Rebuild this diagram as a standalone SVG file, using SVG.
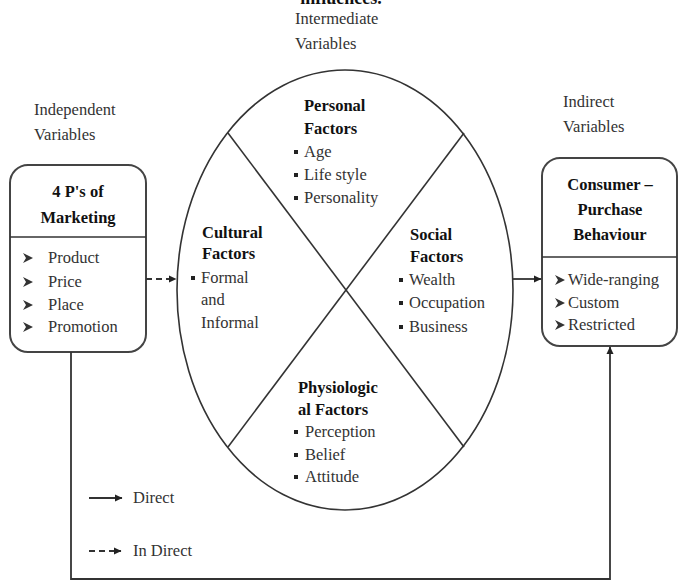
<svg xmlns="http://www.w3.org/2000/svg" width="683" height="584" viewBox="0 0 683 584">
<style>
text{font-family:"Liberation Serif","Times New Roman","DejaVu Serif",serif;font-size:16.5px;fill:#333}
.b{font-weight:bold;fill:#111}
.c{text-anchor:middle}
.box{fill:#fff;stroke:#444;stroke-width:2}
.ln{fill:none;stroke:#333;stroke-width:1.6}
.con{fill:none;stroke:#333;stroke-width:1.8}
.dash{stroke-dasharray:6 4}
.bul{fill:#222}
</style>
<defs>
<marker id="ah" markerWidth="8" markerHeight="8" refX="7" refY="4" orient="auto" markerUnits="userSpaceOnUse">
<path d="M0,0.5 L7.5,4 L0,7.5 Z" fill="#222"/>
</marker>
<path id="chev" d="M0,-5 L10,0 L0,5 L3,0 Z" fill="#333"/>
</defs>
<rect width="683" height="584" fill="#fff"/>
<text class="b c" x="341" y="4" style="font-size:18px">influences.</text>
<g id="labels">
<text x="295" y="24">Intermediate</text>
<text x="295" y="49">Variables</text>
<text x="34" y="115">Independent</text>
<text x="34" y="140">Variables</text>
<text x="563" y="107">Indirect</text>
<text x="563" y="132">Variables</text>
</g>
<g id="marketing">
<rect class="box" x="10" y="165" width="136" height="187" rx="18"/>
<line class="ln" x1="10" y1="237" x2="146" y2="237"/>
<text class="b c" x="78" y="197">4 P's of</text>
<text class="b c" x="78" y="223">Marketing</text>
<use href="#chev" x="23" y="258"/><text x="48" y="263">Product</text>
<use href="#chev" x="23" y="282"/><text x="48" y="287">Price</text>
<use href="#chev" x="23" y="305"/><text x="48" y="310">Place</text>
<use href="#chev" x="23" y="327"/><text x="48" y="332">Promotion</text>
</g>
<g id="factors">
<ellipse class="ln" cx="345" cy="290" rx="168" ry="220" fill="#fff"/>
<line class="ln" x1="228" y1="133" x2="464" y2="447"/>
<line class="ln" x1="464" y1="133" x2="228" y2="447"/>
</g>
<g id="personal">
<text class="b" x="304" y="111">Personal</text>
<text class="b" x="304" y="134">Factors</text>
<rect class="bul" x="294" y="150" width="4" height="4"/><text x="304" y="157">Age</text>
<rect class="bul" x="294" y="173" width="4" height="4"/><text x="304" y="180">Life style</text>
<rect class="bul" x="294" y="196" width="4" height="4"/><text x="304" y="203">Personality</text>
</g>
<g id="cultural">
<text class="b" x="202" y="238">Cultural</text>
<text class="b" x="202" y="259">Factors</text>
<rect class="bul" x="191" y="276" width="4" height="4"/><text x="201" y="283">Formal</text>
<text x="201" y="305">and</text>
<text x="201" y="328">Informal</text>
</g>
<g id="social">
<text class="b" x="410" y="240">Social</text>
<text class="b" x="410" y="262">Factors</text>
<rect class="bul" x="399" y="278" width="4" height="4"/><text x="409" y="285">Wealth</text>
<rect class="bul" x="399" y="301" width="4" height="4"/><text x="409" y="308">Occupation</text>
<rect class="bul" x="399" y="325" width="4" height="4"/><text x="409" y="332">Business</text>
</g>
<g id="physiological">
<text class="b" x="298" y="393">Physiologic</text>
<text class="b" x="298" y="415">al Factors</text>
<rect class="bul" x="294" y="430" width="4" height="4"/><text x="305" y="437">Perception</text>
<rect class="bul" x="294" y="453" width="4" height="4"/><text x="305" y="460">Belief</text>
<rect class="bul" x="294" y="475" width="4" height="4"/><text x="305" y="482">Attitude</text>
</g>
<g id="consumer">
<rect class="box" x="542" y="158" width="135" height="188" rx="18"/>
<line class="ln" x1="542" y1="257" x2="677" y2="257"/>
<text class="b c" x="610" y="190">Consumer –</text>
<text class="b c" x="610" y="215">Purchase</text>
<text class="b c" x="610" y="240">Behaviour</text>
<use href="#chev" x="555" y="280"/><text x="568" y="285">Wide-ranging</text>
<use href="#chev" x="555" y="303"/><text x="568" y="308">Custom</text>
<use href="#chev" x="555" y="325"/><text x="568" y="330">Restricted</text>
</g>
<g id="connectors">
<line class="con dash" x1="146" y1="279" x2="176" y2="279" marker-end="url(#ah)"/>
<line class="con" x1="513" y1="279" x2="541" y2="279" marker-end="url(#ah)"/>
<path class="con" d="M71,352 V579 H610 V347" stroke="#555" stroke-width="2.2" marker-end="url(#ah)"/>
</g>
<g id="legend">
<line class="con" x1="89" y1="498" x2="122" y2="498" marker-end="url(#ah)"/>
<text x="133" y="503">Direct</text>
<line class="con dash" x1="89" y1="551" x2="121" y2="551" marker-end="url(#ah)"/>
<text x="133" y="556">In Direct</text>
</g>
</svg>
